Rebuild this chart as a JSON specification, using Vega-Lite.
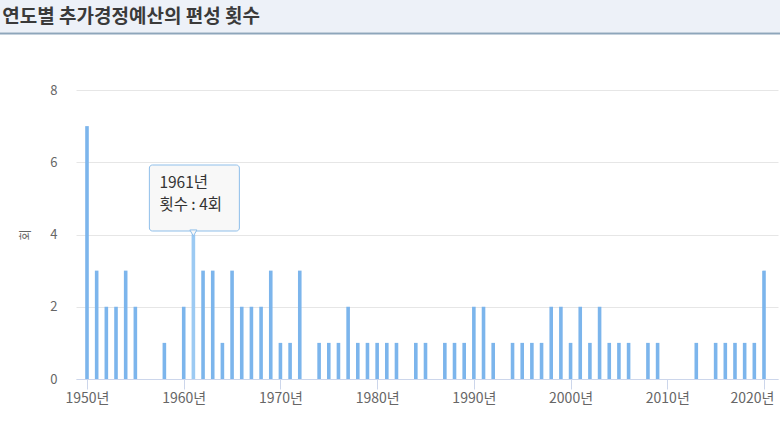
{
  "$schema": "https://vega.github.io/schema/vega-lite/v6.json",
  "width": 702,
  "height": 289,
  "autosize": {"type": "none"},
  "padding": {"left": 76, "top": 90, "right": 2, "bottom": 44},
  "background": "white",
  "config": {"view": {"stroke": null}, "font": "Noto Sans CJK KR"},
  "datasets": {
    "counts": [
      {"year": 1950, "count": 7}, {"year": 1951, "count": 3}, {"year": 1952, "count": 2},
      {"year": 1953, "count": 2}, {"year": 1954, "count": 3}, {"year": 1955, "count": 2},
      {"year": 1956, "count": 0}, {"year": 1957, "count": 0}, {"year": 1958, "count": 1},
      {"year": 1959, "count": 0}, {"year": 1960, "count": 2}, {"year": 1961, "count": 4},
      {"year": 1962, "count": 3}, {"year": 1963, "count": 3}, {"year": 1964, "count": 1},
      {"year": 1965, "count": 3}, {"year": 1966, "count": 2}, {"year": 1967, "count": 2},
      {"year": 1968, "count": 2}, {"year": 1969, "count": 3}, {"year": 1970, "count": 1},
      {"year": 1971, "count": 1}, {"year": 1972, "count": 3}, {"year": 1973, "count": 0},
      {"year": 1974, "count": 1}, {"year": 1975, "count": 1}, {"year": 1976, "count": 1},
      {"year": 1977, "count": 2}, {"year": 1978, "count": 1}, {"year": 1979, "count": 1},
      {"year": 1980, "count": 1}, {"year": 1981, "count": 1}, {"year": 1982, "count": 1},
      {"year": 1983, "count": 0}, {"year": 1984, "count": 1}, {"year": 1985, "count": 1},
      {"year": 1986, "count": 0}, {"year": 1987, "count": 1}, {"year": 1988, "count": 1},
      {"year": 1989, "count": 1}, {"year": 1990, "count": 2}, {"year": 1991, "count": 2},
      {"year": 1992, "count": 1}, {"year": 1993, "count": 0}, {"year": 1994, "count": 1},
      {"year": 1995, "count": 1}, {"year": 1996, "count": 1}, {"year": 1997, "count": 1},
      {"year": 1998, "count": 2}, {"year": 1999, "count": 2}, {"year": 2000, "count": 1},
      {"year": 2001, "count": 2}, {"year": 2002, "count": 1}, {"year": 2003, "count": 2},
      {"year": 2004, "count": 1}, {"year": 2005, "count": 1}, {"year": 2006, "count": 1},
      {"year": 2007, "count": 0}, {"year": 2008, "count": 1}, {"year": 2009, "count": 1},
      {"year": 2010, "count": 0}, {"year": 2011, "count": 0}, {"year": 2012, "count": 0},
      {"year": 2013, "count": 1}, {"year": 2014, "count": 0}, {"year": 2015, "count": 1},
      {"year": 2016, "count": 1}, {"year": 2017, "count": 1}, {"year": 2018, "count": 1},
      {"year": 2019, "count": 1}, {"year": 2020, "count": 3}
    ],
    "tip": [{"year": 1961, "count": 4, "head": "1961년", "body": "횟수 : 4회"}],
    "header": [{"title": "연도별 추가경정예산의 편성 횟수"}]
  },
  "layer": [
    {
      "data": {"name": "counts"},
      "mark": {"type": "bar", "size": 3.6},
      "encoding": {
        "x": {
          "field": "year", "type": "quantitative", "title": null,
          "scale": {"domain": [1948.863, 2021.448], "nice": false, "zero": false, "padding": 0},
          "axis": {
            "values": [1950, 1960, 1970, 1980, 1990, 2000, 2010, 2020],
            "labelExpr": "datum.value + '년'",
            "grid": false, "domainColor": "#ccd6eb", "tickColor": "#ccd6eb",
            "tickSize": 10, "labelPadding": 2, "labelFontSize": 14,
            "labelColor": "#666666", "labelFlush": false,
            "labelOffset": {"condition": {"test": "datum.value === 2020", "value": -12}, "value": 0}
          }
        },
        "y": {
          "field": "count", "type": "quantitative", "title": "회",
          "scale": {"domain": [0, 8]},
          "axis": {
            "values": [0, 2, 4, 6, 8], "domain": false, "ticks": false, "tickSize": 0,
            "gridColor": "#e6e6e6", "labelPadding": 19, "labelFontSize": 13,
            "labelColor": "#666666", "titleColor": "#666666", "titleFontSize": 12,
            "titleFontWeight": "normal", "titlePadding": 17
          }
        },
        "color": {"condition": {"test": "datum.year === 1961", "value": "#9ccaf3"}, "value": "#7cb5ec"}
      }
    },
    {
      "data": {"values": [{}]},
      "mark": {"type": "rect", "color": "#edf1f8", "clip": false},
      "encoding": {
        "x": {"datum": 1940, "type": "quantitative", "title": null},
        "x2": {"datum": 2023},
        "y": {"datum": 10.8, "type": "quantitative", "title": "회"},
        "y2": {"datum": 9.59}
      }
    },
    {
      "data": {"values": [{}]},
      "mark": {"type": "rule", "color": "#8ea6bb", "strokeWidth": 2, "clip": false},
      "encoding": {
        "x": {"datum": 1940, "type": "quantitative", "title": null},
        "x2": {"datum": 2023},
        "y": {"datum": 9.565, "type": "quantitative", "title": "회"}
      }
    },
    {
      "data": {"name": "header"},
      "mark": {"type": "text", "align": "left", "baseline": "middle", "fontSize": 19, "fontWeight": "bold", "color": "#3a3a3a", "clip": false},
      "encoding": {
        "x": {"datum": 1941.25, "type": "quantitative", "title": null},
        "y": {"datum": 10.03, "type": "quantitative", "title": "회"},
        "text": {"field": "title"}
      }
    },
    {
      "data": {"name": "tip"},
      "mark": {
        "type": "rect", "fill": "#f7f7f7", "fillOpacity": 0.92, "stroke": "#8fbfea",
        "strokeWidth": 1, "cornerRadius": 3,
        "xOffset": -44, "x2Offset": 46, "yOffset": -69.5, "y2Offset": -3.5
      },
      "encoding": {
        "x": {"field": "year", "type": "quantitative", "title": null},
        "x2": {"field": "year"},
        "y": {"field": "count", "type": "quantitative", "title": "회"},
        "y2": {"field": "count"}
      }
    },
    {
      "data": {"name": "tip"},
      "mark": {"type": "point", "shape": "triangle-down", "size": 50, "filled": true, "fill": "#f7f7f7", "fillOpacity": 1, "stroke": "#8fbfea", "strokeWidth": 1, "yOffset": -1.5},
      "encoding": {
        "x": {"field": "year", "type": "quantitative", "title": null},
        "y": {"field": "count", "type": "quantitative", "title": "회"}
      }
    },
    {
      "data": {"name": "tip"},
      "mark": {"type": "text", "align": "left", "baseline": "middle", "fontSize": 15.5, "color": "#333333", "dx": -34, "dy": -51.5},
      "encoding": {
        "x": {"field": "year", "type": "quantitative", "title": null},
        "y": {"field": "count", "type": "quantitative", "title": "회"},
        "text": {"field": "head"}
      }
    },
    {
      "data": {"name": "tip"},
      "mark": {"type": "text", "align": "left", "baseline": "middle", "fontSize": 15.5, "color": "#333333", "dx": -34, "dy": -29.5},
      "encoding": {
        "x": {"field": "year", "type": "quantitative", "title": null},
        "y": {"field": "count", "type": "quantitative", "title": "회"},
        "text": {"field": "body"}
      }
    }
  ]
}
